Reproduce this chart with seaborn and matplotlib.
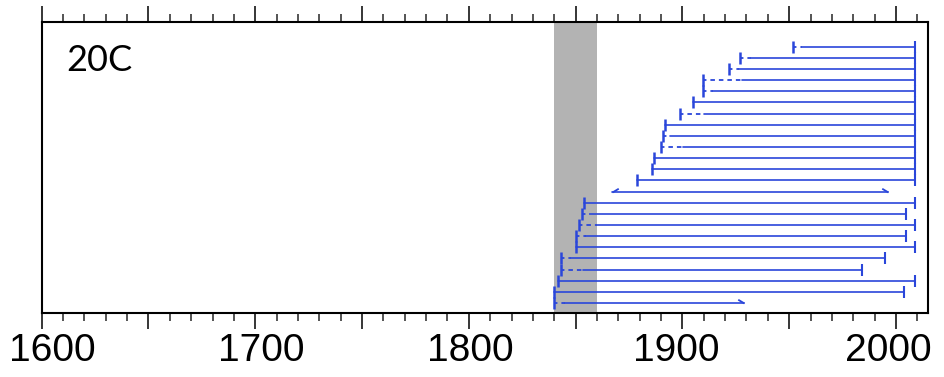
import numpy as np
import pandas as pd
import matplotlib
matplotlib.use("Agg")
import matplotlib.pyplot as plt
from matplotlib.path import Path
from matplotlib.ticker import MultipleLocator, FuncFormatter
import matplotlib.transforms as mtransforms
import seaborn as sns

# ---------------- data (years), rows counted from the bottom ----------------
rows = list(range(1, 25))
start_year = [1839.8, 1839.8, 1841.9, 1843.1, 1843.1, 1850.0, 1850.0, 1851.7,
              1852.8, 1854.0, 1866.9, 1878.8, 1885.6, 1886.6, 1889.8, 1890.7,
              1891.8, 1898.8, 1904.8, 1909.7, 1909.7, 1921.9, 1926.9, 1951.9]
solid_start = [1845.0, 1839.8, 1841.9, 1853.6, 1847.7, 1850.0, 1854.8, 1859.8,
               1856.7, 1854.0, 1866.9, 1878.8, 1885.6, 1886.6, 1900.4, 1894.1,
               1891.8, 1910.0, 1904.8, 1914.4, 1927.7, 1926.6, 1931.9, 1956.1]
end_year = [1928.8, 2003.7, 2009.0, 1983.9, 1994.8, 2009.0, 2004.6, 2009.0,
            2004.6, 2009.0, 1996.4, 2009.0, 2009.0, 2009.0, 2009.0, 2009.0,
            2009.0, 2009.0, 2009.0, 2009.0, 2009.0, 2009.0, 2009.0, 2009.0]
left_end = ["cap"] * 10 + ["arrow"] + ["cap"] * 13
right_end = ["arrow"] + ["cap"] * 9 + ["arrow"] + ["cap"] * 13
shade_years = [1840, 1860]
panel_label = "20C"
xtick_labels = [1600, 1700, 1800, 1900, 2000]

BLUE = "#2a46da"

sns.set_style("white")
plt.rcParams["font.family"] = ["Liberation Sans", "DejaVu Sans"]

fig = plt.figure(figsize=(9.45, 3.77), dpi=100)
ax = fig.add_axes([0.0441, 0.169, 0.982 - 0.0441, 0.9424 - 0.169])

ax.axvspan(shade_years[0], shade_years[1], color="#b3b3b3", lw=0, zorder=0)

# solid parts
solid = pd.DataFrame({
    "row": rows * 2,
    "year": solid_start + end_year,
})
sns.lineplot(data=solid, x="year", y="row", units="row", estimator=None,
             sort=False, color=BLUE, lw=1.2, ax=ax, legend=False)

# dashed parts (before solid start)
dash_rows = [r for r, a, b in zip(rows, start_year, solid_start) if b - a > 0.5]
dashed = pd.DataFrame({
    "row": dash_rows * 2,
    "year": [start_year[r - 1] for r in dash_rows] + [solid_start[r - 1] for r in dash_rows],
})
for r, sub in dashed.groupby("row"):
    ax.plot(sub["year"], sub["row"], color=BLUE, lw=1.3, linestyle=(0.6, (2.5, 2.2)))

# end markers
right_arrow = Path([(-1, 0.6), (0, 0)], [Path.MOVETO, Path.LINETO])
left_arrow = Path([(0, 0), (1, 0.6)], [Path.MOVETO, Path.LINETO])
for r, x0, x1, le, re in zip(rows, start_year, end_year, left_end, right_end):
    if le == "cap":
        ax.plot([x0], [r], marker="|", ms=9, mew=1.8, color=BLUE, ls="none")
    else:
        ax.plot([x0], [r], marker=left_arrow, ms=9, mew=1.3, mfc="none",
                mec=BLUE, ls="none")
    if re == "cap":
        ax.plot([x1], [r], marker="|", ms=9, mew=1.5, color=BLUE, ls="none")
    else:
        ax.plot([x1], [r], marker=right_arrow, ms=9, mew=1.3, mfc="none",
                mec=BLUE, ls="none")

ax.set_xlim(1600, 2015)
ax.set_ylim(0.08, 26.24)
ax.set_xlabel("")
ax.set_ylabel("")
ax.set_yticks([])

ax.xaxis.set_major_locator(MultipleLocator(50))
ax.xaxis.set_minor_locator(MultipleLocator(10))
ax.xaxis.set_major_formatter(FuncFormatter(
    lambda v, p: str(int(round(v))) if int(round(v)) in xtick_labels else ""))
ax.tick_params(axis="x", which="major", direction="out", length=11.5, width=1.1,
               top=True, bottom=True, labeltop=False, labelsize=28, pad=2.5,
               colors="black")
ax.tick_params(axis="x", which="minor", direction="out", length=5.5, width=1.1,
               top=True, bottom=True)
for s in ax.spines.values():
    s.set_visible(True)
    s.set_linewidth(1.5)
    s.set_color("black")

ax.text(0.028, 0.925, panel_label, transform=ax.transAxes, ha="left", va="top",
        fontsize=26, family=["Lato", "DejaVu Sans"], color="black")

# small horizontal label shifts as seen in the reference (pixels)
label_shift_px = {1600: 11, 1700: 6, 1800: 1, 1900: -6, 2000: -8}
fig.canvas.draw()
for tick in ax.xaxis.get_major_ticks():
    v = int(round(tick.get_loc()))
    if v in label_shift_px:
        off = mtransforms.ScaledTranslation(label_shift_px[v] / 100.0, 0,
                                            fig.dpi_scale_trans)
        tick.label1.set_transform(tick.label1.get_transform() + off)

fig.savefig("out.png", dpi=100, facecolor="white")
